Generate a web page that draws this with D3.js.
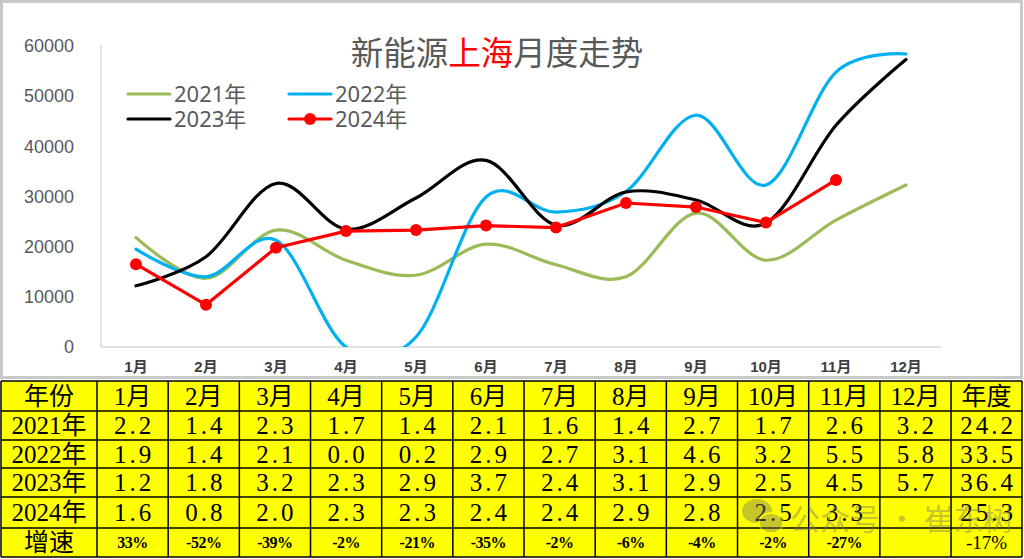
<!DOCTYPE html>
<html><head><meta charset="utf-8">
<script src="https://cdn.jsdelivr.net/npm/d3@7"></script>
<style>body{margin:0;background:#fff}svg{display:block}</style>
</head><body>
<svg id="c" width="1024" height="559"></svg>
<script>
const months = ["1月","2月","3月","4月","5月","6月","7月","8月","9月","10月","11月","12月"];
const yTicks = [0,10000,20000,30000,40000,50000,60000];
const s2021 = [21800,13700,23300,17300,14300,20500,16400,14000,26700,17300,25300,32300];
const s2022 = [19500,14000,21300,0,2000,29900,26900,31000,46200,32300,54800,58400];
const s2023 = [12200,18000,32600,23500,29700,37200,24300,30900,29300,24700,44200,57300];
const s2024 = [16500,8400,19800,23100,23300,24200,23800,28700,27900,24800,33300];
const seriesNames = ["2021年","2022年","2023年","2024年"];
const tableHeader = ["年份","1月","2月","3月","4月","5月","6月","7月","8月","9月","10月","11月","12月","年度"];
const row2021 = ["2021年","2.2","1.4","2.3","1.7","1.4","2.1","1.6","1.4","2.7","1.7","2.6","3.2","24.2"];
const row2022 = ["2022年","1.9","1.4","2.1","0.0","0.2","2.9","2.7","3.1","4.6","3.2","5.5","5.8","33.5"];
const row2023 = ["2023年","1.2","1.8","3.2","2.3","2.9","3.7","2.4","3.1","2.9","2.5","4.5","5.7","36.4"];
const row2024 = ["2024年","1.6","0.8","2.0","2.3","2.3","2.4","2.4","2.9","2.8","2.5","3.3","","25.3"];
const rowGrowth = ["增速","33%","-52%","-39%","-2%","-21%","-35%","-2%","-6%","-4%","-2%","-27%","","-17%"];

const svg = d3.select("#c");
svg.append("rect").attr("x",1.5).attr("y",1.5).attr("width",1020).attr("height",376)
  .attr("fill","#fff").attr("stroke","#c9c9c9").attr("stroke-width",3);

const L=101, R=941, T=46, B=347;
const x = d3.scaleBand().domain(months).range([L,R]);
const cx = m => x(m)+x.bandwidth()/2;
const y = d3.scaleLinear().domain([0,60000]).range([B,T]);

svg.append("line").attr("x1",L).attr("x2",L).attr("y1",45).attr("y2",B).attr("stroke","#d9d9d9").attr("stroke-width",1.5);
svg.append("line").attr("x1",L).attr("x2",R).attr("y1",B).attr("y2",B).attr("stroke","#d9d9d9").attr("stroke-width",1.5);

const yAxis = d3.axisLeft(y).tickValues(yTicks).tickSize(0).tickPadding(0).tickFormat(d3.format("d"));
const ya = svg.append("g").attr("transform","translate(74,0)").call(yAxis);
ya.select(".domain").remove();
ya.selectAll("text").attr("font-family","Liberation Sans, Arial, sans-serif").attr("font-size",18).attr("fill","#595959");

const xAxis = d3.axisBottom(x).tickSize(0).tickPadding(0);
const xa = svg.append("g").attr("transform","translate(0,361)").call(xAxis);
xa.select(".domain").remove();
xa.selectAll("text").attr("font-family","Liberation Sans, 'Noto Sans CJK SC', sans-serif").attr("font-size",15).attr("font-weight","bold").attr("fill","#404040");

svg.append("clipPath").attr("id","pc").append("rect").attr("x",L).attr("y",0).attr("width",R-L+20).attr("height",B);

const smooth = d3.line().x((d,i)=>cx(months[i])).y(d=>y(d)).curve(d3.curveCardinal.tension(0));
const straight = d3.line().x((d,i)=>cx(months[i])).y(d=>y(d));
const g = svg.append("g").attr("clip-path","url(#pc)");
[[s2021,"#9BBB59"],[s2022,"#00B0F0"],[s2023,"#000000"]].forEach(([s,c])=>{
  g.append("path").attr("d",smooth(s)).attr("fill","none").attr("stroke",c).attr("stroke-width",3.2).attr("stroke-linecap","round");
});
svg.append("path").attr("d",straight(s2024)).attr("fill","none").attr("stroke","#FF0000").attr("stroke-width",3.2);
svg.selectAll(".dot").data(s2024).enter().append("circle")
  .attr("cx",(d,i)=>cx(months[i])).attr("cy",d=>y(d)).attr("r",6).attr("fill","#FF0000");

const title = svg.append("text").attr("x",497).attr("y",65).attr("text-anchor","middle")
  .attr("font-family","'Noto Sans CJK SC', sans-serif").attr("font-size",32.5).attr("fill","#595959");
title.append("tspan").text("新能源");
title.append("tspan").attr("fill","#FF0000").text("上海");
title.append("tspan").text("月度走势");

const leg = [[seriesNames[0],"#9BBB59",128,94,false],[seriesNames[1],"#00B0F0",289,94,false],
             [seriesNames[2],"#000000",128,119,false],[seriesNames[3],"#FF0000",289,119,true]];
leg.forEach(([n,c,lx,ly,dot])=>{
  svg.append("line").attr("x1",lx).attr("x2",lx+42).attr("y1",ly).attr("y2",ly).attr("stroke",c).attr("stroke-width",3.2).attr("stroke-linecap","round");
  if(dot) svg.append("circle").attr("cx",lx+21).attr("cy",ly).attr("r",6).attr("fill",c);
  svg.append("text").attr("x",lx+46).attr("y",ly+8).attr("font-family","'Noto Sans', 'Noto Sans CJK SC', sans-serif")
    .attr("font-size",22).attr("fill","#595959").text(n);
});

const colX = [1,97].concat(d3.range(1,13).map(i=>97+i*71.17));
colX.push(1022);
const rowY = [381,411,440,468,497,528,557];
const rows = [tableHeader,row2021,row2022,row2023,row2024,rowGrowth];
svg.append("rect").attr("x",colX[0]).attr("y",rowY[0]).attr("width",1022-colX[0]).attr("height",rowY[6]-rowY[0]).attr("fill","#FFFF00");
rows.forEach((r,ri)=>{
  r.forEach((t,ci)=>{
    const x0=colX[ci], x1=colX[ci+1], y0=rowY[ri], y1=rowY[ri+1];
    const isG = ri===5 && ci>0;
    const txt = svg.append("text").attr("x",(x0+x1)/2).attr("y",(y0+y1)/2).attr("text-anchor","middle")
      .attr("dominant-baseline","central")
      .attr("font-family","'Liberation Serif', 'Noto Sans CJK SC', serif").attr("fill","#000").text(t);
    if(isG){
      if(ci===13) txt.attr("font-size",19).attr("letter-spacing",0);
      else txt.attr("font-size",16).attr("font-weight","bold").attr("letter-spacing",-0.5);
    } else if(ri>0 && ci>0){
      txt.attr("font-size",25).attr("letter-spacing",3).attr("dx",1.5);
    } else {
      txt.attr("font-size",25);
    }
  });
});
colX.forEach(cxv=>svg.append("line").attr("x1",cxv).attr("x2",cxv).attr("y1",rowY[0]).attr("y2",rowY[6]).attr("stroke","#000").attr("stroke-width",1.5));
rowY.forEach(ryv=>svg.append("line").attr("x1",colX[0]).attr("x2",1022).attr("y1",ryv).attr("y2",ryv).attr("stroke","#000").attr("stroke-width",1.5));

const wm = svg.append("g").attr("opacity",0.42);
wm.append("ellipse").attr("cx",757).attr("cy",511).attr("rx",15).attr("ry",12).attr("fill","#7a7a6a");
wm.append("ellipse").attr("cx",771).attr("cy",523).attr("rx",12).attr("ry",10).attr("fill","#7a7a6a").attr("stroke","#ffff00").attr("stroke-width",1.5);
wm.append("text").attr("x",790).attr("y",517).attr("dominant-baseline","central")
  .attr("font-family","'Noto Sans CJK SC', sans-serif").attr("font-size",30).attr("fill","#7a7a6a").text("公众号 · 崔东树");
</script>
</body></html>
